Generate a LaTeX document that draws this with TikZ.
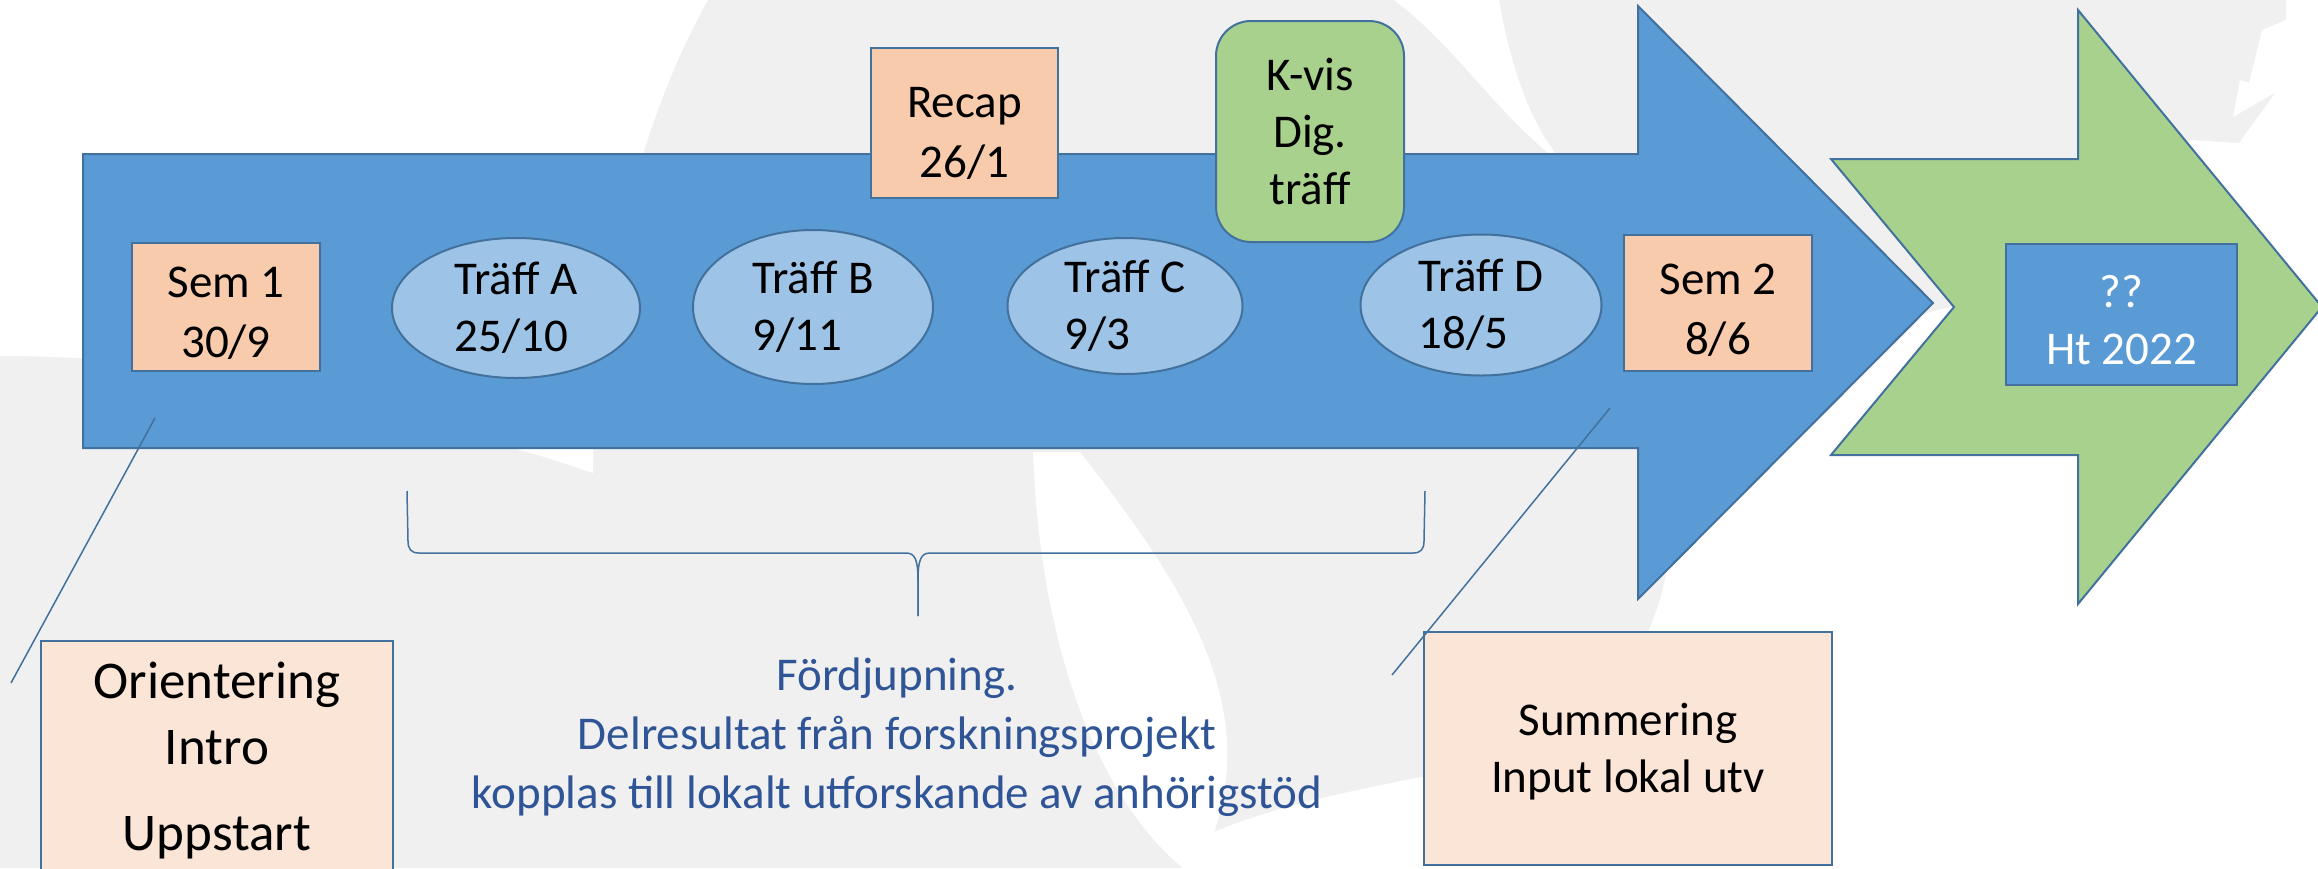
\documentclass[tikz,border=0pt]{standalone}
\usepackage{fontspec}
\setmainfont{Carlito}
\usetikzlibrary{shapes.geometric}
\definecolor{arrowblue}{HTML}{5B9BD5}
\definecolor{edgeblue}{HTML}{41719C}
\definecolor{palesky}{HTML}{9DC3E6}
\definecolor{peach}{HTML}{F8CBAD}
\definecolor{palepeach}{HTML}{FBE5D6}
\definecolor{leafgreen}{HTML}{A9D18E}
\definecolor{inkblue}{HTML}{2F5597}
\definecolor{backgrey}{HTML}{F0F0F0}

\begin{document}
\begin{tikzpicture}[x=1pt, y=-1pt, datebox/.style={draw=edgeblue, line width=2pt, fill=peach, inner sep=0pt, align=center, font=\fontsize{47}{60}\selectfont}, meeting/.style={ellipse, draw=edgeblue, line width=2pt, fill=palesky, inner sep=0pt, align=left, font=\fontsize{47}{57}\selectfont}, notebox/.style={draw=edgeblue, line width=2pt, fill=palepeach, inner sep=0pt, align=center}, pointer/.style={draw=edgeblue, line width=1.5pt}]
\useasboundingbox (0,0) rectangle (2318,868);

% background
\fill[backgrey] (0,0) rectangle (2318,868);
\fill[white] (0,0) -- (708,0) .. controls (640,120) and (595,300) .. (593,473) .. controls (560,462) and (540,455) .. (519,450) .. controls (350,390) and (180,356) .. (0,356) -- cycle;
\fill[white] (1394,0) -- (1499,0) .. controls (1515,90) and (1540,140) .. (1570,170) .. controls (1500,120) and (1460,50) .. (1394,0) -- cycle;
\fill[white] (1033,452) -- (1080,452) .. controls (1180,580) and (1260,700) .. (1214,832) .. controls (1300,795) and (1420,780) .. (1500,760) .. controls (1640,700) and (1660,620) .. (1672,540) .. controls (1690,420) and (1850,330) .. (1950,307) -- (2318,307) -- (2318,868) -- (1183,868) .. controls (1100,800) and (1040,650) .. (1033,452) -- cycle;
\fill[white] (2286,0) -- (2286,20) -- (2262,30) -- (2249,83) -- (2240,80) -- (2233,117) -- (2276,92) -- (2239,143) -- (2190,140) -- (2180,160) -- (2318,300) -- (2318,0) -- cycle;

% arrows
\draw[draw=edgeblue, line width=2pt, fill=arrowblue] (83,154) -- (1638,154) -- (1638,6) -- (1933,303) -- (1638,599) -- (1638,448) -- (83,448) -- cycle;
\draw[draw=edgeblue, line width=2pt, fill=leafgreen] (1831,159) -- (2078,159) -- (2078,10) -- (2322,307) -- (2078,604) -- (2078,455) -- (1831,455) -- (1954,307) -- cycle;

\node[datebox, minimum width=188pt, minimum height=128pt] (sem1) at (226,307) {\rule{0pt}{42pt}Sem 1\\30/9};
\node[meeting, minimum width=248pt, minimum height=140pt] (traffA) at (516,308) {Träff A\\25/10};
\node[meeting, minimum width=240pt, minimum height=154pt] (traffB) at (813,307) {Träff B\\9/11};
\node[meeting, minimum width=235pt, minimum height=136pt] (traffC) at (1125,306) {Träff C\\9/3};
\node[meeting, minimum width=241pt, minimum height=141pt] (traffD) at (1481,305) {Träff D\\18/5};
\node[datebox, minimum width=187pt, minimum height=150pt] (recap) at (964.5,123) {\rule{0pt}{50pt}Recap\\26/1};
\node[datebox, fill=leafgreen, rounded corners=35pt, minimum width=188pt, minimum height=221pt, font=\fontsize{47}{57}\selectfont] (kvis) at (1310,131.5) {K-vis\\Dig.\\träff};
\node[datebox, minimum width=188pt, minimum height=136pt] (sem2) at (1718,303) {\rule{0pt}{44pt}Sem 2\\8/6};
\node[datebox, fill=arrowblue, text=white, minimum width=231pt, minimum height=141pt, font=\fontsize{47}{57}\selectfont] (autumn) at (2121.5,314.5) {\rule{0pt}{44pt}??\\Ht 2022};

\node[notebox, anchor=north, minimum width=352pt, inner ysep=21pt, font=\fontsize{53}{66}\selectfont] (orient) at (217,640) {Orientering\\Intro\\[20pt]Uppstart};
\node[notebox, minimum width=408pt, minimum height=233pt, font=\fontsize{47}{57}\selectfont] (summary) at (1628,748.5) {\rule{0pt}{38pt}Summering\\Input lokal utv};
\node[text=inkblue, align=center, font=\fontsize{47}{59}\selectfont] (deepening) at (897,737) {Fördjupning.\\Delresultat från forskningsprojekt\\kopplas till lokalt utforskande av anhörigstöd};

\coordinate (sem1foot) at (155,418);
\coordinate (orientfoot) at (11,683);
\coordinate (sem2foot) at (1610,408);
\coordinate (summaryfoot) at (1392,675);
\draw[pointer] (sem1foot) -- (orientfoot);
\draw[pointer] (sem2foot) -- (summaryfoot);

\coordinate (braceL) at (407,491);
\coordinate (braceM) at (918,616);
\coordinate (braceR) at (1425,491);
\draw[pointer] (braceL) -- (408,541) .. controls (408,549) and (411,553) .. (419,553) -- (906,553) .. controls (915,553) and (918,560) .. (918,580) -- (braceM);
\draw[pointer] (braceM) -- (918,580) .. controls (918,560) and (921,553) .. (930,553) -- (1413,553) .. controls (1421,553) and (1424,549) .. (1424,541) -- (braceR);
\end{tikzpicture}
\end{document}
